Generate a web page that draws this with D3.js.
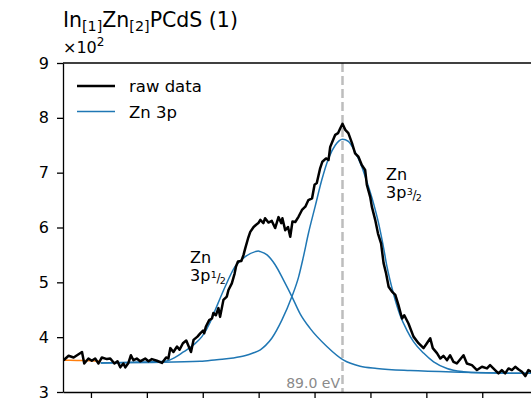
<!DOCTYPE html>
<html>
<head>
<meta charset="utf-8">
<script src="https://cdn.jsdelivr.net/npm/d3@7"></script>
<style>
  body { margin: 0; background: #fff; }
  svg { display: block; font-family: "DejaVu Sans", sans-serif; }
</style>
</head>
<body>
<svg id="chart" width="531" height="398"></svg>
<script>
// Binding energy (eV) and measured counts of the Zn 3p region
const rawEnergy = [98.98, 98.80, 98.62, 98.32, 98.24, 98.09, 97.97, 97.85, 97.73, 97.61,
  97.43, 97.31, 97.16, 97.05, 96.95, 96.84, 96.77, 96.66, 96.57, 96.48,
  96.36, 96.24, 96.06, 95.94, 95.82, 95.64, 95.46, 95.31, 95.23, 95.16,
  95.05, 94.92, 94.83, 94.71, 94.59, 94.42, 94.33, 94.19, 94.09, 93.99,
  93.95, 93.89, 93.77, 93.67, 93.62, 93.53, 93.44, 93.38, 93.26, 93.14,
  93.08, 92.96, 92.86, 92.81, 92.74, 92.62, 92.54, 92.48, 92.38, 92.30,
  92.18, 92.09, 92.01, 91.94, 91.83, 91.77, 91.65, 91.53, 91.41, 91.29,
  91.19, 91.15, 91.05, 90.95, 90.87, 90.79, 90.69, 90.57, 90.45, 90.33,
  90.22, 90.09, 90.00, 89.92, 89.80, 89.72, 89.59, 89.50, 89.44, 89.36,
  89.26, 89.16, 89.08, 89.00, 88.90, 88.79, 88.66, 88.55, 88.43, 88.31,
  88.19, 88.13, 88.01, 87.95, 87.83, 87.73, 87.62, 87.53, 87.44, 87.35,
  87.23, 87.11, 87.00, 86.87, 86.79, 86.64, 86.46, 86.28, 86.10, 85.98,
  85.86, 85.77, 85.62, 85.50, 85.39, 85.26, 85.15, 85.03, 84.91, 84.67,
  84.55, 84.37, 84.19, 84.01, 83.83, 83.72, 83.54, 83.42, 83.30, 83.18,
  83.06, 82.94, 82.82, 82.70, 82.58, 82.46, 82.35, 82.25, 82.10];
const rawCounts = [358, 366, 363, 373, 352, 361, 357, 361, 352, 363,
  360, 361, 352, 356, 345, 352, 345, 353, 367, 358,
  361, 356, 361, 356, 360, 357, 353, 363, 361, 380,
  373, 383, 377, 389, 394, 373, 395, 401, 407, 412,
  407, 419, 431, 434, 444, 440, 453, 437, 468, 474,
  486, 498, 516, 529, 538, 539, 550, 562, 580, 592,
  601, 605, 608, 614, 608, 617, 609, 612, 599, 619,
  608, 617, 595, 601, 583, 611, 610, 620, 632, 638,
  650, 653, 678, 681, 708, 720, 726, 723, 747, 757,
  769, 772, 781, 789, 778, 772, 754, 735, 729, 714,
  705, 678, 656, 638, 614, 589, 571, 535, 516, 492,
  483, 477, 459, 434, 440, 425, 401, 389, 380, 389,
  398, 380, 371, 361, 366, 358, 367, 355, 352, 367,
  352, 349, 340, 346, 343, 349, 340, 334, 340, 334,
  343, 340, 346, 341, 337, 329, 340, 337, 338];

// Fitted Zn 3p3/2 component (with background)
const p32Energy = [97.65, 95.88, 94.09, 93.50, 92.91, 92.50, 92.20, 91.94, 91.75, 91.53,
  91.17, 90.81, 90.57, 90.41, 90.22, 89.98, 89.74, 89.50, 89.26, 89.00,
  88.79, 88.55, 88.31, 88.13, 87.89, 87.71, 87.53, 87.41, 87.18, 86.94,
  86.70, 86.46, 86.10, 85.74, 85.26, 84.67, 84.07, 82.28, 81.50];
const p32Counts = [353, 354, 356, 359, 362, 366, 371, 377, 385, 398,
  431, 474, 510, 544, 589, 638, 687, 726, 750, 761,
  757, 738, 711, 684, 644, 608, 563, 529, 480, 440,
  413, 392, 371, 355, 343, 337, 335, 334, 334];

// Fitted Zn 3p1/2 component (with background)
const p12Energy = [97.65, 96.24, 95.35, 94.99, 94.69, 94.33, 94.03, 93.73, 93.55, 93.20,
  92.84, 92.48, 92.12, 92.01, 91.94, 91.70, 91.41, 91.11, 90.81, 90.51,
  90.16, 89.56, 88.96, 88.37, 87.77, 86.58, 84.79, 82.28, 81.50];
const p12Counts = [353, 354.5, 356, 363, 373, 386, 401, 428, 450, 492,
  529, 547, 556, 557, 556, 550, 532, 504, 474, 442,
  416, 383, 358, 347, 343, 339, 336, 334, 334];

// Background at the high-energy end
const bgEnergy = [99.0, 98.5, 98.0, 97.65];
const bgCounts = [358, 357.5, 357, 356];

const xTicks = [98, 96, 94, 92, 90, 88, 86, 84, 82];
const yTicks = [300, 400, 500, 600, 700, 800, 900];
const markerEnergy = 89.0;

const svg = d3.select("#chart");
const plotLeft = 63, plotTop = 63, plotBottom = 392;

const x = d3.scaleLinear().domain([99, 81]).range([plotLeft, plotLeft + 18 * 27.95]);
const y = d3.scaleLinear().domain([300, 900]).range([plotBottom, plotTop]);

svg.append("defs").append("clipPath").attr("id", "plot")
  .append("rect").attr("x", plotLeft).attr("y", plotTop)
  .attr("width", x(81) - plotLeft).attr("height", plotBottom - plotTop);

const plot = svg.append("g").attr("clip-path", "url(#plot)");

// reference line at the 3p3/2 position
plot.append("line")
  .attr("x1", x(markerEnergy)).attr("x2", x(markerEnergy))
  .attr("y1", plotTop).attr("y2", plotBottom)
  .attr("stroke", "#bdbdbd").attr("stroke-width", 2.5)
  .attr("stroke-dasharray", "9,4");

const line = d3.line()
  .x(d => x(d[0])).y(d => y(d[1]))
  .curve(d3.curveMonotoneX);
const zip = (a, b) => a.map((v, i) => [v, b[i]]);

plot.append("path").datum(zip(bgEnergy, bgCounts)).attr("d", line)
  .attr("fill", "none").attr("stroke", "#ff7f0e").attr("stroke-width", 1.5);

[zip(p32Energy, p32Counts), zip(p12Energy, p12Counts)].forEach(pts => {
  plot.append("path").datum(pts).attr("d", line)
    .attr("fill", "none").attr("stroke", "#1f77b4").attr("stroke-width", 1.5);
});

plot.append("path").datum(zip(rawEnergy, rawCounts))
  .attr("d", d3.line().x(d => x(d[0])).y(d => y(d[1])))
  .attr("fill", "none").attr("stroke", "#000").attr("stroke-width", 2.5)
  .attr("stroke-linejoin", "round");

// axes
const yAxis = svg.append("g").attr("transform", `translate(${plotLeft},0)`)
  .call(d3.axisLeft(y).tickValues(yTicks).tickFormat(d => d / 100)
    .tickSize(6).tickSizeOuter(0).tickPadding(8));
const xAxis = svg.append("g").attr("transform", `translate(0,${plotBottom})`)
  .call(d3.axisBottom(x).tickValues(xTicks).tickFormat(d3.format(".0f"))
    .tickSize(6).tickSizeOuter(0).tickPadding(5));
[yAxis, xAxis].forEach(g => {
  g.selectAll("path, line").attr("stroke", "#000").attr("stroke-width", 1.3);
  g.selectAll("text").attr("font-size", 16).attr("fill", "#000")
    .attr("font-family", "DejaVu Sans");
});
svg.append("line").attr("x1", plotLeft).attr("x2", x(81))
  .attr("y1", plotTop).attr("y2", plotTop)
  .attr("stroke", "#000").attr("stroke-width", 1.3);

// multiplier
const mult = svg.append("text").attr("x", plotLeft).attr("y", 53)
  .attr("font-size", 16).attr("fill", "#000");
mult.append("tspan").text("×10");
mult.append("tspan").attr("font-size", 12).attr("dy", -7).text("2");

// title
const title = svg.append("text").attr("x", 63).attr("y", 27)
  .attr("font-size", 20.5).attr("fill", "#000");
title.append("tspan").text("In");
title.append("tspan").attr("font-size", 14.3).attr("dy", 4).text("[1]");
title.append("tspan").attr("dy", -4).text("Zn");
title.append("tspan").attr("font-size", 14.3).attr("dy", 4).text("[2]");
title.append("tspan").attr("dy", -4).text("PCdS (1)");

// marker label
svg.append("text").attr("x", x(markerEnergy) - 2.5).attr("y", 387.5)
  .attr("text-anchor", "end").attr("font-size", 14).attr("fill", "#8a8a8a")
  .text(`${markerEnergy.toFixed(1)} eV`);

// peak labels: "Zn" over "3p" with a stacked j fraction
const peakLabels = [
  { num: "1", x: 190, y: 263 },
  { num: "3", x: 386, y: 180 }
];
peakLabels.forEach(l => {
  const t = svg.append("text").attr("font-size", 16).attr("fill", "#000");
  t.append("tspan").attr("x", l.x).attr("y", l.y).text("Zn");
  t.append("tspan").attr("x", l.x).attr("y", l.y + 17.5).text("3p");
  t.append("tspan").attr("font-size", 9.5).attr("dx", 0.5).attr("dy", -2.5).text(l.num);
  t.append("tspan").attr("font-size", 12).attr("dx", -0.3).attr("dy", 3.5).text("/");
  t.append("tspan").attr("font-size", 9.5).attr("dx", -0.8).attr("dy", 2.5).text("2");
});

// legend
const legend = [
  { label: "raw data", color: "#000", width: 2.5 },
  { label: "Zn 3p", color: "#1f77b4", width: 1.5 }
];
legend.forEach((d, i) => {
  const yy = 86 + i * 25.5;
  svg.append("line").attr("x1", 77).attr("x2", 115).attr("y1", yy).attr("y2", yy)
    .attr("stroke", d.color).attr("stroke-width", d.width);
  svg.append("text").attr("x", 129).attr("y", yy + 6).attr("font-size", 16.5)
    .attr("fill", "#000").text(d.label);
});
</script>
</body>
</html>
